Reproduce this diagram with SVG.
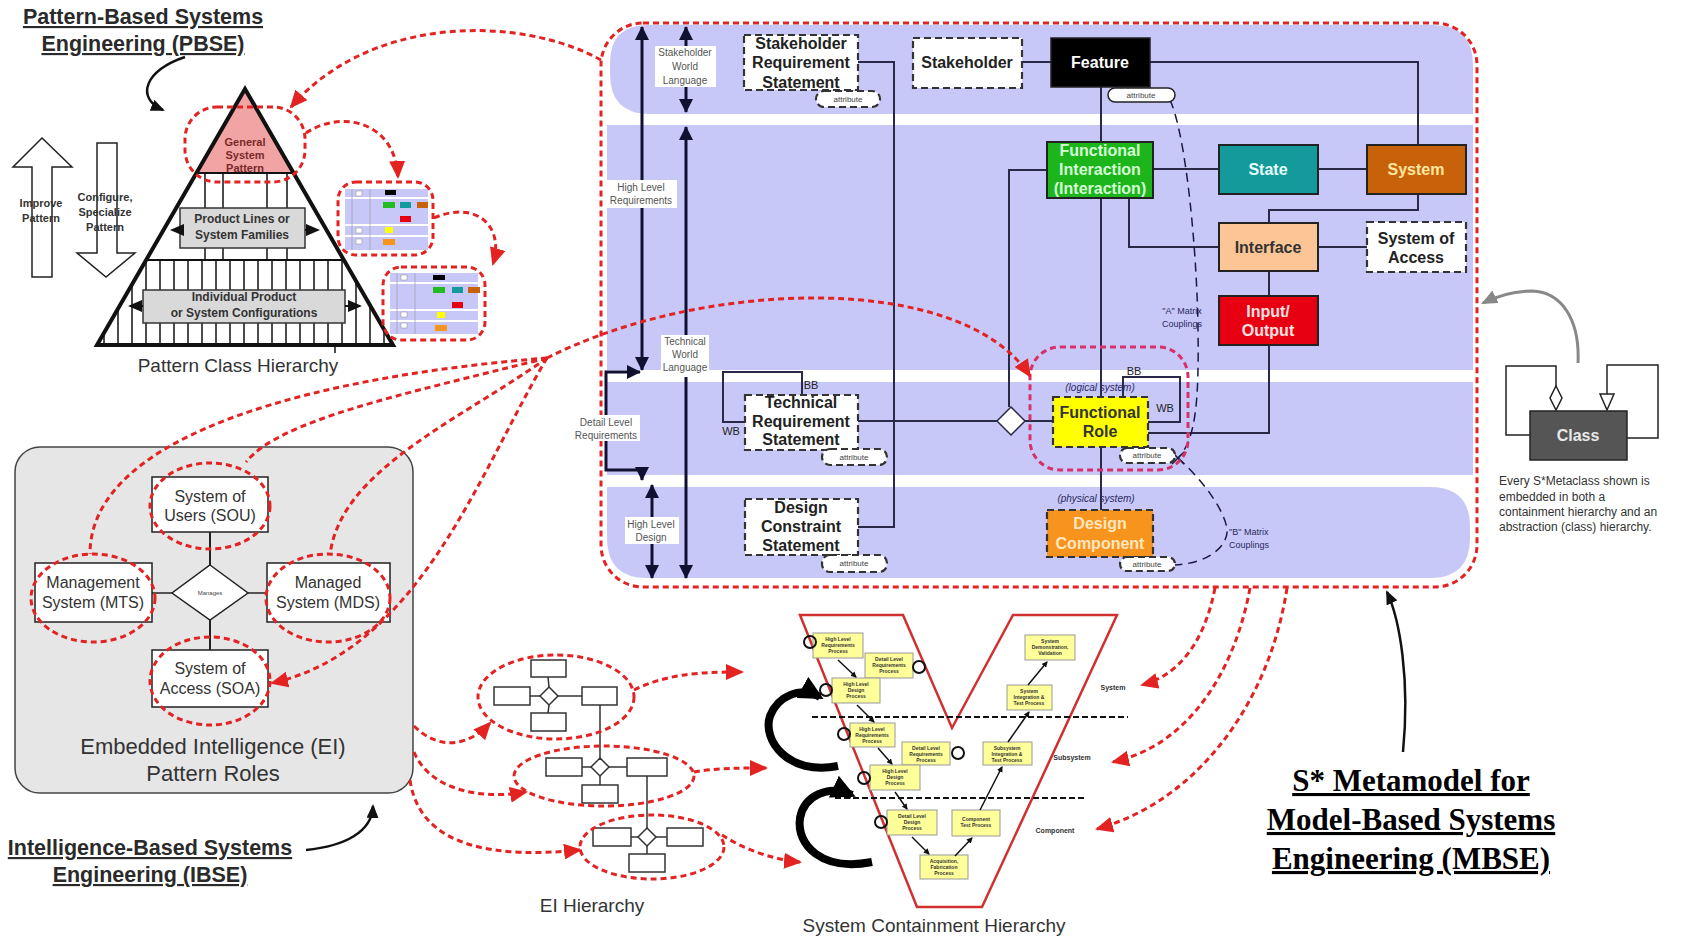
<svg xmlns="http://www.w3.org/2000/svg" width="1683" height="937" viewBox="0 0 1683 937">
<defs>
<style>
.sans{font-family:"Liberation Sans",Arial,sans-serif}
.t16b{font-family:"Liberation Sans",Arial,sans-serif;font-size:16px;font-weight:bold;text-anchor:middle}
.title{font-family:"Liberation Sans",Arial,sans-serif;font-size:21.5px;font-weight:bold;fill:#2a2a2a;text-anchor:middle;text-decoration:underline}
.mb{font-family:"Liberation Serif","Times New Roman",serif;font-size:31px;font-weight:bold;fill:#000;text-anchor:middle;text-decoration:underline}
.lbl{font-family:"Liberation Sans",Arial,sans-serif;font-size:10px;fill:#555;text-anchor:middle}
.pyr{font-family:"Liberation Sans",Arial,sans-serif;font-size:12px;font-weight:bold;fill:#333;text-anchor:middle}
.ei{font-family:"Liberation Sans",Arial,sans-serif;font-size:16px;fill:#333;text-anchor:middle}
.eibig{font-family:"Liberation Sans",Arial,sans-serif;font-size:22px;fill:#333;text-anchor:middle}
.attr{font-family:"Liberation Sans",Arial,sans-serif;font-size:8px;fill:#444;text-anchor:middle}
.vt{font-family:"Liberation Sans",Arial,sans-serif;font-size:5px;font-weight:bold;fill:#333;text-anchor:middle}
.vbox{fill:#ffff99;stroke:#999;stroke-width:1}
.dash{stroke:#333;stroke-width:2.2;stroke-dasharray:7 4}
.sol{stroke:#222;stroke-width:2}
.ln{fill:none;stroke:#2a2a48;stroke-width:2}
.red{fill:none;stroke:#e32222;stroke-width:3;stroke-dasharray:6 4}
.redA{fill:none;stroke:#e32222;stroke-width:3;stroke-dasharray:6 4;marker-end:url(#ra)}
.eibox{fill:#fff;stroke:#222;stroke-width:1.5}
.small{fill:#fff;stroke:#333;stroke-width:1.5}
.mx{fill:none;stroke:#1a1a40;stroke-width:1.5;stroke-dasharray:9 6}
.circ{fill:none;stroke:#111;stroke-width:2}
.va{fill:none;stroke:#111;stroke-width:1.5;marker-end:url(#sa)}
</style>
<marker id="ra" markerUnits="userSpaceOnUse" markerWidth="18" markerHeight="16" viewBox="0 0 18 16" refX="16" refY="8" orient="auto"><path d="M0,0 L18,8 L0,16 Z" fill="#e32222"/></marker>
<marker id="ba" markerUnits="userSpaceOnUse" markerWidth="14" markerHeight="14" viewBox="0 0 14 14" refX="13" refY="7" orient="auto-start-reverse"><path d="M0,0 L14,7 L0,14 Z" fill="#101030"/></marker>
<marker id="ka" markerUnits="userSpaceOnUse" markerWidth="14" markerHeight="12" viewBox="0 0 14 12" refX="12" refY="6" orient="auto"><path d="M0,0 L14,6 L0,12 Z" fill="#111"/></marker>
<marker id="big" markerUnits="userSpaceOnUse" markerWidth="24" markerHeight="24" viewBox="0 0 24 24" refX="20" refY="12" orient="auto"><path d="M0,0 L24,12 L0,24 Z" fill="#000"/></marker>
<marker id="ga" markerUnits="userSpaceOnUse" markerWidth="16" markerHeight="14" viewBox="0 0 16 14" refX="14" refY="7" orient="auto"><path d="M0,0 L16,7 L0,14 Z" fill="#888"/></marker>
<marker id="sa" markerUnits="userSpaceOnUse" markerWidth="6" markerHeight="6" viewBox="0 0 6 6" refX="5" refY="3" orient="auto"><path d="M0,0 L6,3 L0,6 Z" fill="#111"/></marker>
<clipPath id="tri"><polygon points="245,89 97,345 393,345"/></clipPath>
</defs>
<rect width="1683" height="937" fill="#fff"/>

<!-- Titles -->
<g id="title-pbse">
<text class="title" x="143" y="24">Pattern-Based Systems</text>
<text class="title" x="143" y="51">Engineering (PBSE)</text>
</g>
<g id="title-ibse">
<text class="title" x="150" y="855">Intelligence-Based Systems</text>
<text class="title" x="150" y="882">Engineering (IBSE)</text>
</g>
<g id="title-mbse">
<text class="mb" x="1411" y="791">S* Metamodel for</text>
<text class="mb" x="1411" y="830">Model-Based Systems</text>
<text class="mb" x="1411" y="869">Engineering (MBSE)</text>
</g>

<!-- Pyramid -->
<g id="pyramid">
<polygon points="245,89 196,173 294,173" fill="#f2a3a3"/>
<g clip-path="url(#tri)" stroke="#111" stroke-width="1.5">
<line x1="205" y1="173" x2="205" y2="260"/><line x1="223" y1="173" x2="223" y2="260"/>
<line x1="267" y1="173" x2="267" y2="260"/><line x1="287" y1="173" x2="287" y2="260"/>
<line x1="104" y1="260" x2="104" y2="345"/><line x1="118" y1="260" x2="118" y2="345"/><line x1="132" y1="260" x2="132" y2="345"/><line x1="146" y1="260" x2="146" y2="345"/><line x1="160" y1="260" x2="160" y2="345"/><line x1="174" y1="260" x2="174" y2="345"/><line x1="188" y1="260" x2="188" y2="345"/><line x1="202" y1="260" x2="202" y2="345"/><line x1="216" y1="260" x2="216" y2="345"/><line x1="230" y1="260" x2="230" y2="345"/><line x1="244" y1="260" x2="244" y2="345"/><line x1="258" y1="260" x2="258" y2="345"/><line x1="272" y1="260" x2="272" y2="345"/><line x1="286" y1="260" x2="286" y2="345"/><line x1="300" y1="260" x2="300" y2="345"/><line x1="314" y1="260" x2="314" y2="345"/><line x1="328" y1="260" x2="328" y2="345"/><line x1="342" y1="260" x2="342" y2="345"/><line x1="356" y1="260" x2="356" y2="345"/><line x1="370" y1="260" x2="370" y2="345"/><line x1="384" y1="260" x2="384" y2="345"/>
</g>
<line x1="196" y1="173" x2="294" y2="173" stroke="#111" stroke-width="2"/>
<line x1="146" y1="260" x2="344" y2="260" stroke="#111" stroke-width="2"/>
<polygon points="245,89 97,345 393,345" fill="none" stroke="#111" stroke-width="4" stroke-linejoin="miter"/>
<line x1="335" y1="345" x2="335" y2="353" stroke="#111" stroke-width="1.5"/>
<text class="sans" x="245" y="146" font-size="11" font-weight="bold" fill="#7a2a2a" text-anchor="middle">General</text>
<text class="sans" x="245" y="159" font-size="11" font-weight="bold" fill="#7a2a2a" text-anchor="middle">System</text>
<text class="sans" x="245" y="172" font-size="11" font-weight="bold" fill="#7a2a2a" text-anchor="middle">Pattern</text>
<rect x="180" y="208" width="125" height="40" fill="#d9d9d9" stroke="#333" stroke-width="1.5"/>
<text class="pyr" x="242" y="223">Product Lines or</text>
<text class="pyr" x="242" y="239">System Families</text>
<line x1="180" y1="230" x2="172" y2="230" stroke="#111" stroke-width="2" marker-end="url(#ka)"/>
<line x1="305" y1="230" x2="318" y2="230" stroke="#111" stroke-width="2" marker-end="url(#ka)"/>
<rect x="143" y="290" width="202" height="33" fill="#d9d9d9" stroke="#333" stroke-width="1.5"/>
<text class="pyr" x="244" y="301">Individual Product</text>
<text class="pyr" x="244" y="317">or System Configurations</text>
<line x1="143" y1="306" x2="130" y2="306" stroke="#111" stroke-width="2" marker-end="url(#ka)"/>
<line x1="345" y1="306" x2="360" y2="306" stroke="#111" stroke-width="2" marker-end="url(#ka)"/>
<text class="sans" x="238" y="372" font-size="19" fill="#333" text-anchor="middle">Pattern Class Hierarchy</text>
</g>

<g id="improve-arrow">
<polygon points="42,138 72,167 52,167 52,277 32,277 32,167 13,167" fill="#fff" stroke="#222" stroke-width="1.5"/>
<text class="sans" x="41" y="207" font-size="11" font-weight="bold" fill="#333" text-anchor="middle">Improve</text>
<text class="sans" x="41" y="222" font-size="11" font-weight="bold" fill="#333" text-anchor="middle">Pattern</text>
</g>
<g id="configure-arrow">
<polygon points="97,143 117,143 117,253 135,253 106,277 77,253 97,253" fill="#fff" stroke="#222" stroke-width="1.5"/>
<text class="sans" x="105" y="201" font-size="11" font-weight="bold" fill="#333" text-anchor="middle">Configure,</text>
<text class="sans" x="105" y="216" font-size="11" font-weight="bold" fill="#333" text-anchor="middle">Specialize</text>
<text class="sans" x="105" y="231" font-size="11" font-weight="bold" fill="#333" text-anchor="middle">Pattern</text>
</g>

<!-- thumbnails -->
<g id="thumb1">
<rect x="345" y="189" width="83" height="61" fill="#c8c8f8"/>
<rect x="345" y="197" width="83" height="2" fill="#fff"/><rect x="345" y="224" width="83" height="2" fill="#fff"/><rect x="345" y="235" width="83" height="2" fill="#fff"/>
<line x1="352" y1="189" x2="352" y2="250" stroke="#99a" stroke-width="0.7"/><line x1="370" y1="189" x2="370" y2="250" stroke="#99a" stroke-width="0.7"/>
<rect x="356" y="191" width="6" height="5" fill="#fff" stroke="#888" stroke-width="0.5"/><rect x="356" y="228" width="6" height="5" fill="#fff" stroke="#888" stroke-width="0.5"/><rect x="356" y="239" width="6" height="5" fill="#fff" stroke="#888" stroke-width="0.5"/>
<rect x="385" y="190" width="11" height="5" fill="#000"/>
<rect x="383" y="202" width="12" height="6" fill="#22bb22"/><rect x="400" y="202" width="11" height="6" fill="#149a9a"/><rect x="417" y="202" width="11" height="6" fill="#c8620a"/>
<rect x="400" y="216" width="11" height="6" fill="#e60012"/><rect x="385" y="227" width="8" height="6" fill="#ffff00"/><rect x="383" y="239" width="12" height="6" fill="#f7941d"/>
<rect x="338" y="182" width="95" height="73" rx="18" class="red"/>
</g>
<g id="thumb2">
<rect x="390" y="273" width="88" height="61" fill="#c8c8f8"/>
<rect x="390" y="282" width="88" height="2" fill="#fff"/><rect x="390" y="309" width="88" height="2" fill="#fff"/><rect x="390" y="320" width="88" height="2" fill="#fff"/>
<line x1="397" y1="273" x2="397" y2="334" stroke="#99a" stroke-width="0.7"/><line x1="415" y1="273" x2="415" y2="334" stroke="#99a" stroke-width="0.7"/>
<rect x="401" y="275" width="6" height="5" fill="#fff" stroke="#888" stroke-width="0.5"/><rect x="401" y="312" width="6" height="5" fill="#fff" stroke="#888" stroke-width="0.5"/><rect x="401" y="323" width="6" height="5" fill="#fff" stroke="#888" stroke-width="0.5"/>
<rect x="433" y="275" width="12" height="5" fill="#000"/>
<rect x="433" y="287" width="12" height="6" fill="#22bb22"/><rect x="452" y="287" width="11" height="6" fill="#149a9a"/><rect x="468" y="287" width="12" height="6" fill="#c8620a"/>
<rect x="452" y="302" width="11" height="6" fill="#e60012"/><rect x="437" y="312" width="8" height="6" fill="#ffff00"/><rect x="435" y="325" width="12" height="6" fill="#f7941d"/>
<rect x="383" y="267" width="102" height="73" rx="18" class="red"/>
</g>
<g id="gsp-outline"><rect x="185" y="107" width="120" height="75" rx="32" class="red"/></g>

<!-- EI box -->
<g id="ei-box">
<rect x="15" y="447" width="398" height="346" rx="25" fill="#e6e6e6" stroke="#444" stroke-width="1.5"/>
<line x1="210" y1="532" x2="210" y2="565" stroke="#222" stroke-width="2"/>
<line x1="210" y1="620" x2="210" y2="650" stroke="#222" stroke-width="2"/>
<line x1="152" y1="593" x2="172" y2="593" stroke="#222" stroke-width="1.5"/>
<line x1="248" y1="593" x2="267" y2="593" stroke="#222" stroke-width="1.5"/>
<text class="eibig" x="213" y="754">Embedded Intelligence (EI)</text>
<text class="eibig" x="213" y="781">Pattern Roles</text>
</g>
<g id="ei-sou"><rect x="152" y="477" width="116" height="55" class="eibox"/><text class="ei" x="210" y="502">System of</text><text class="ei" x="210" y="521">Users (SOU)</text></g>
<g id="ei-mts"><rect x="35" y="563" width="117" height="59" class="eibox"/><text class="ei" x="93" y="588">Management</text><text class="ei" x="93" y="608">System (MTS)</text></g>
<g id="ei-mds"><rect x="267" y="563" width="123" height="59" class="eibox"/><text class="ei" x="328" y="588">Managed</text><text class="ei" x="328" y="608">System (MDS)</text></g>
<g id="ei-soa"><rect x="152" y="650" width="116" height="57" class="eibox"/><text class="ei" x="210" y="674">System of</text><text class="ei" x="210" y="694">Access (SOA)</text></g>
<g id="ei-manages"><polygon points="210,565 248,593 210,620 172,593" fill="#fff" stroke="#222" stroke-width="1.5"/><text class="sans" x="210" y="595" font-size="6" fill="#444" text-anchor="middle">Manages</text></g>
<g id="ei-outlines">
<ellipse cx="210" cy="506" rx="60" ry="43" class="red"/>
<ellipse cx="93" cy="598" rx="62" ry="44" class="red"/>
<ellipse cx="328" cy="598" rx="62" ry="44" class="red"/>
<ellipse cx="210" cy="681" rx="60" ry="44" class="red"/>
</g>

<!-- EI hierarchy -->
<g id="ei-hierarchy">
<g stroke="#333" stroke-width="1.5">
<line x1="548" y1="677" x2="549" y2="687"/><line x1="549" y1="705" x2="548" y2="713"/><line x1="530" y1="696" x2="540" y2="696"/><line x1="558" y1="696" x2="582" y2="696"/>
<line x1="600" y1="705" x2="600" y2="758"/>
<line x1="582" y1="767" x2="591" y2="767"/><line x1="609" y1="767" x2="627" y2="767"/><line x1="600" y1="776" x2="600" y2="785"/>
<line x1="647" y1="776" x2="647" y2="828"/>
<line x1="631" y1="837" x2="638" y2="837"/><line x1="656" y1="837" x2="667" y2="837"/><line x1="647" y1="846" x2="647" y2="854"/>
</g>
<rect x="531" y="660" width="35" height="17" class="small"/><rect x="494" y="687" width="36" height="18" class="small"/><rect x="582" y="687" width="35" height="18" class="small"/><rect x="531" y="713" width="35" height="18" class="small"/>
<polygon points="549,687 558,696 549,705 540,696" class="small"/>
<rect x="546" y="758" width="36" height="18" class="small"/><rect x="627" y="758" width="40" height="18" class="small"/><rect x="582" y="785" width="36" height="18" class="small"/>
<polygon points="600,758 609,767 600,776 591,767" class="small"/>
<rect x="593" y="828" width="38" height="18" class="small"/><rect x="667" y="828" width="36" height="18" class="small"/><rect x="629" y="854" width="36" height="18" class="small"/>
<polygon points="647,828 656,837 647,846 638,837" class="small"/>
<ellipse cx="556" cy="697" rx="78" ry="42" class="red"/>
<ellipse cx="604" cy="776" rx="90" ry="30" class="red"/>
<ellipse cx="652" cy="847" rx="72" ry="32" class="red"/>
<text class="sans" x="592" y="912" font-size="19" fill="#333" text-anchor="middle">EI Hierarchy</text>
</g>

<!-- V model -->
<g id="v-model">
<polygon points="800,615 903,615 952,728 1013,615 1117,615 982,907 917,907" fill="none" stroke="#d03030" stroke-width="2.5"/>
<line x1="812" y1="717" x2="1128" y2="717" stroke="#111" stroke-width="2" stroke-dasharray="6 3"/>
<line x1="835" y1="798" x2="1084" y2="798" stroke="#111" stroke-width="2" stroke-dasharray="6 3"/>
<text class="sans" x="1113" y="690" font-size="7" font-weight="bold" fill="#333" text-anchor="middle">System</text>
<text class="sans" x="1072" y="760" font-size="7" font-weight="bold" fill="#333" text-anchor="middle">Subsystem</text>
<text class="sans" x="1055" y="833" font-size="7" font-weight="bold" fill="#333" text-anchor="middle">Component</text>
<path d="M838,766 C788,776 762,740 770,716 C778,696 800,686 820,697" fill="none" stroke="#000" stroke-width="8" marker-end="url(#big)"/>
<path d="M872,862 C822,872 796,845 800,818 C804,796 828,784 852,795" fill="none" stroke="#000" stroke-width="8" marker-end="url(#big)"/>
<g class="vboxes">
<rect x="813" y="633" width="50" height="25" class="vbox"/><text class="vt" x="838" y="641">High Level</text><text class="vt" x="838" y="647">Requirements</text><text class="vt" x="838" y="653">Process</text>
<rect x="865" y="653" width="48" height="25" class="vbox"/><text class="vt" x="889" y="661">Detail Level</text><text class="vt" x="889" y="667">Requirements</text><text class="vt" x="889" y="673">Process</text>
<rect x="832" y="678" width="48" height="25" class="vbox"/><text class="vt" x="856" y="686">High Level</text><text class="vt" x="856" y="692">Design</text><text class="vt" x="856" y="698">Process</text>
<rect x="850" y="723" width="45" height="24" class="vbox"/><text class="vt" x="872" y="731">High Level</text><text class="vt" x="872" y="737">Requirements</text><text class="vt" x="872" y="743">Process</text>
<rect x="902" y="742" width="48" height="23" class="vbox"/><text class="vt" x="926" y="750">Detail Level</text><text class="vt" x="926" y="756">Requirements</text><text class="vt" x="926" y="762">Process</text>
<rect x="870" y="765" width="50" height="25" class="vbox"/><text class="vt" x="895" y="773">High Level</text><text class="vt" x="895" y="779">Design</text><text class="vt" x="895" y="785">Process</text>
<rect x="887" y="810" width="50" height="25" class="vbox"/><text class="vt" x="912" y="818">Detail Level</text><text class="vt" x="912" y="824">Design</text><text class="vt" x="912" y="830">Process</text>
<rect x="920" y="855" width="48" height="24" class="vbox"/><text class="vt" x="944" y="863">Acquisition,</text><text class="vt" x="944" y="869">Fabrication</text><text class="vt" x="944" y="875">Process</text>
<rect x="952" y="810" width="48" height="26" class="vbox"/><text class="vt" x="976" y="821">Component</text><text class="vt" x="976" y="827">Test Process</text>
<rect x="983" y="742" width="49" height="23" class="vbox"/><text class="vt" x="1007" y="750">Subsystem</text><text class="vt" x="1007" y="756">Integration &amp;</text><text class="vt" x="1007" y="762">Test Process</text>
<rect x="1007" y="685" width="45" height="25" class="vbox"/><text class="vt" x="1029" y="693">System</text><text class="vt" x="1029" y="699">Integration &amp;</text><text class="vt" x="1029" y="705">Test Process</text>
<rect x="1025" y="635" width="50" height="25" class="vbox"/><text class="vt" x="1050" y="643">System</text><text class="vt" x="1050" y="649">Demonstration,</text><text class="vt" x="1050" y="655">Validation</text>
</g>
<line x1="838" y1="660" x2="856" y2="677" class="va"/>
<line x1="857" y1="705" x2="874" y2="722" class="va"/>
<line x1="878" y1="748" x2="892" y2="764" class="va"/>
<line x1="895" y1="792" x2="907" y2="809" class="va"/>
<line x1="912" y1="837" x2="929" y2="854" class="va"/>
<line x1="955" y1="856" x2="972" y2="838" class="va"/>
<line x1="980" y1="810" x2="1002" y2="767" class="va"/>
<line x1="1008" y1="742" x2="1029" y2="712" class="va"/>
<line x1="1028" y1="685" x2="1047" y2="662" class="va"/>
<circle cx="810" cy="642" r="6" class="circ"/><circle cx="919" cy="667" r="6" class="circ"/><circle cx="826" cy="690" r="6" class="circ"/>
<circle cx="844" cy="734" r="6" class="circ"/><circle cx="958" cy="753" r="6" class="circ"/><circle cx="864" cy="778" r="6" class="circ"/><circle cx="881" cy="822" r="6" class="circ"/>
<text class="sans" x="934" y="932" font-size="19" fill="#333" text-anchor="middle">System Containment Hierarchy</text>
</g>

<!-- Metamodel frame background -->
<g id="metamodel-frame">
<path d="M648,25 L1433,25 Q1473,25 1473,65 L1473,114 L650,114 Q610,114 610,74 L610,63 Q610,25 648,25 Z" fill="#c8c8f8"/>
<rect x="607" y="125" width="866" height="245" fill="#c8c8f8"/>
<rect x="607" y="382" width="866" height="93" fill="#c8c8f8"/>
<path d="M607,487 L1430,487 Q1470,487 1470,527 L1470,538 Q1470,578 1430,578 L647,578 Q607,578 607,538 Z" fill="#c8c8f8"/>
<rect x="601" y="23" width="876" height="564" rx="42" class="red"/>
</g>

<!-- internal lines -->
<g id="connectors-internal">
<path d="M858,62 L894,62 L894,527 L858,527" class="ln"/>
<path d="M858,421 L998,421" class="ln"/>
<path d="M1022,62 L1051,62" class="ln"/>
<path d="M1150,62 L1418,62 L1418,145" class="ln"/>
<path d="M1101,87 L1101,510" class="ln"/>
<path d="M1047,170 L1009,170 L1009,407" class="ln"/>
<path d="M1024,421 L1053,421" class="ln"/>
<path d="M1153,169 L1219,169 M1318,169 L1367,169" class="ln"/>
<path d="M1418,194 L1418,210 L1269,210 L1269,223" class="ln"/>
<path d="M1129,198 L1129,247 L1219,247" class="ln"/>
<path d="M1318,247 L1367,247" class="ln"/>
<path d="M1269,271 L1269,296" class="ln"/>
<path d="M1269,345 L1269,433 L1148,433" class="ln"/>
<path d="M1123,397 L1123,377 L1180,377 L1180,422 L1148,422" class="ln"/>
<path d="M802,395 L802,372 L723,372 L723,422 L745,422" class="ln"/>
<path d="M642,370 L642,27" fill="none" stroke="#101030" stroke-width="3" marker-start="url(#ba)" marker-end="url(#ba)"/>
<path d="M686,112 L686,27" fill="none" stroke="#101030" stroke-width="3" marker-start="url(#ba)" marker-end="url(#ba)"/>
<path d="M686,578 L686,127" fill="none" stroke="#101030" stroke-width="3" marker-start="url(#ba)" marker-end="url(#ba)"/>
<path d="M640,372 L606,372 L606,470 L642,470 L642,480" fill="none" stroke="#101030" stroke-width="3" marker-start="url(#ba)" marker-end="url(#ba)"/>
<path d="M652,485 L652,578" fill="none" stroke="#101030" stroke-width="3" marker-start="url(#ba)" marker-end="url(#ba)"/>
<path d="M1170,100 C1186,135 1197,250 1198,330 C1199,400 1196,440 1178,458" class="mx"/>
<path d="M1178,458 C1200,478 1222,505 1227,528 C1229,545 1210,563 1175,565" class="mx"/>
<path d="M1172,452 L1184,464 M1184,452 L1172,464" stroke="#1a1a40" stroke-width="1.5"/>
</g>

<!-- small labels -->
<g id="arrow-labels">
<rect x="655" y="46" width="61" height="41" fill="#fff"/>
<text class="lbl" x="685" y="56">Stakeholder</text><text class="lbl" x="685" y="70">World</text><text class="lbl" x="685" y="84">Language</text>
<rect x="605" y="180" width="72" height="28" fill="#fff"/>
<text class="lbl" x="641" y="191">High Level</text><text class="lbl" x="641" y="204">Requirements</text>
<rect x="661" y="335" width="48" height="42" fill="#fff"/>
<text class="lbl" x="685" y="345">Technical</text><text class="lbl" x="685" y="358">World</text><text class="lbl" x="685" y="371">Language</text>
<rect x="573" y="415" width="67" height="26" fill="#fff"/>
<text class="lbl" x="606" y="426">Detail Level</text><text class="lbl" x="606" y="439">Requirements</text>
<rect x="625" y="517" width="54" height="27" fill="#fff"/>
<text class="lbl" x="651" y="528">High Level</text><text class="lbl" x="651" y="541">Design</text>
<text class="sans" x="1182" y="314" font-size="9" fill="#2a2a60" text-anchor="middle">"A" Matrix</text>
<text class="sans" x="1182" y="327" font-size="9" fill="#2a2a60" text-anchor="middle">Couplings</text>
<text class="sans" x="1229" y="535" font-size="9" fill="#2a2a60">"B" Matrix</text>
<text class="sans" x="1229" y="548" font-size="9" fill="#2a2a60">Couplings</text>
<text class="sans" x="811" y="389" font-size="11" fill="#222" text-anchor="middle">BB</text>
<text class="sans" x="731" y="435" font-size="11" fill="#222" text-anchor="middle">WB</text>
<text class="sans" x="1134" y="375" font-size="11" fill="#222" text-anchor="middle">BB</text>
<text class="sans" x="1165" y="412" font-size="11" fill="#222" text-anchor="middle">WB</text>
<text class="sans" x="1100" y="391" font-size="10" font-style="italic" fill="#2a2a60" text-anchor="middle">(logical system)</text>
<text class="sans" x="1096" y="502" font-size="10" font-style="italic" fill="#2a2a60" text-anchor="middle">(physical system)</text>
</g>

<!-- metamodel nodes -->
<g id="n-srs"><rect x="744" y="35" width="114" height="55" fill="#fff" class="dash"/><text class="t16b" x="801" y="49" fill="#222">Stakeholder</text><text class="t16b" x="801" y="68" fill="#222">Requirement</text><text class="t16b" x="801" y="88" fill="#222">Statement</text></g>
<g id="n-srs-attr"><rect x="816" y="91" width="64" height="16" rx="8" fill="#fff" class="dash" stroke-width="1.5"/><text class="attr" x="848" y="102">attribute</text></g>
<g id="n-stakeholder"><rect x="913" y="38" width="109" height="50" fill="#fff" class="dash"/><text class="t16b" x="967" y="68" fill="#222">Stakeholder</text></g>
<g id="n-feature"><rect x="1051" y="38" width="99" height="49" fill="#000" stroke="#222" stroke-width="1.5"/><text class="t16b" x="1100" y="68" fill="#fff">Feature</text></g>
<g id="n-feature-attr"><rect x="1108" y="88" width="67" height="14" rx="7" fill="#fff" stroke="#222" stroke-width="1.5"/><text class="attr" x="1141" y="98">attribute</text></g>
<g id="n-fi"><rect x="1047" y="142" width="106" height="56" fill="#1cb51c" class="sol"/><text class="t16b" x="1100" y="156" fill="#d6ffd6">Functional</text><text class="t16b" x="1100" y="175" fill="#d6ffd6">Interaction</text><text class="t16b" x="1100" y="194" fill="#d6ffd6">(Interaction)</text></g>
<g id="n-state"><rect x="1219" y="145" width="99" height="49" fill="#149a9a" class="sol"/><text class="t16b" x="1268" y="175" fill="#e6ffff">State</text></g>
<g id="n-system"><rect x="1367" y="145" width="99" height="49" fill="#c8620a" class="sol"/><text class="t16b" x="1416" y="175" fill="#ffe6a0">System</text></g>
<g id="n-interface"><rect x="1219" y="223" width="99" height="48" fill="#fbc595" class="sol"/><text class="t16b" x="1268" y="253" fill="#333">Interface</text></g>
<g id="n-soa"><rect x="1367" y="222" width="99" height="50" fill="#fff" class="dash"/><text class="t16b" x="1416" y="244" fill="#222">System of</text><text class="t16b" x="1416" y="263" fill="#222">Access</text></g>
<g id="n-io"><rect x="1219" y="296" width="99" height="49" fill="#e60012" class="sol"/><text class="t16b" x="1268" y="317" fill="#ffe0e0">Input/</text><text class="t16b" x="1268" y="336" fill="#ffe0e0">Output</text></g>
<g id="n-trs"><rect x="745" y="395" width="113" height="55" fill="#fff" class="dash"/><text class="t16b" x="801" y="408" fill="#222">Technical</text><text class="t16b" x="801" y="427" fill="#222">Requirement</text><text class="t16b" x="801" y="445" fill="#222">Statement</text></g>
<g id="n-trs-attr"><rect x="822" y="449" width="65" height="16" rx="8" fill="#fff" class="dash" stroke-width="1.5"/><text class="attr" x="854" y="460">attribute</text></g>
<g id="n-diamond"><polygon points="1011,407 1025,421 1011,435 997,421" fill="#fff" stroke="#2a2a48" stroke-width="1.5"/></g>
<g id="n-fr"><rect x="1053" y="397" width="95" height="50" fill="#ffff00" class="dash"/><text class="t16b" x="1100" y="418" fill="#333">Functional</text><text class="t16b" x="1100" y="437" fill="#333">Role</text></g>
<g id="n-fr-attr"><rect x="1120" y="448" width="55" height="15" rx="7" fill="#fff" class="dash" stroke-width="1.5"/><text class="attr" x="1147" y="458">attribute</text></g>
<g id="n-dcs"><rect x="745" y="499" width="113" height="56" fill="#fff" class="dash"/><text class="t16b" x="801" y="513" fill="#222">Design</text><text class="t16b" x="801" y="532" fill="#222">Constraint</text><text class="t16b" x="801" y="551" fill="#222">Statement</text></g>
<g id="n-dcs-attr"><rect x="822" y="555" width="65" height="17" rx="8" fill="#fff" class="dash" stroke-width="1.5"/><text class="attr" x="854" y="566">attribute</text></g>
<g id="n-dc"><rect x="1047" y="510" width="106" height="47" fill="#f7941d" class="dash"/><text class="t16b" x="1100" y="529" fill="#ffe6c0">Design</text><text class="t16b" x="1100" y="549" fill="#ffe6c0">Component</text></g>
<g id="n-dc-attr"><rect x="1120" y="557" width="55" height="14" rx="7" fill="#fff" class="dash" stroke-width="1.5"/><text class="attr" x="1147" y="567">attribute</text></g>
<g id="fr-outline"><rect x="1030" y="347" width="158" height="123" rx="30" fill="none" stroke="#d8306a" stroke-width="3" stroke-dasharray="6 4"/></g>

<!-- Class -->
<g id="class-node">
<path d="M1556,386 L1556,366 L1506,366 L1506,435 L1530,435" fill="none" stroke="#222" stroke-width="1.5"/>
<path d="M1607,394 L1607,365 L1658,365 L1658,438 L1627,438" fill="none" stroke="#222" stroke-width="1.5"/>
<polygon points="1556,386 1562,398 1556,410 1550,398" fill="#fff" stroke="#222" stroke-width="1.5"/>
<polygon points="1600,394 1614,394 1607,410" fill="#fff" stroke="#222" stroke-width="1.5"/>
<rect x="1530" y="411" width="97" height="49" fill="#555" stroke="#222" stroke-width="1.5"/>
<text class="t16b" x="1578" y="441" fill="#e8e8e8">Class</text>
<text class="sans" x="1499" y="485" font-size="12" fill="#333">Every S*Metaclass shown is</text>
<text class="sans" x="1499" y="501" font-size="12" fill="#333">embedded in both a</text>
<text class="sans" x="1499" y="516" font-size="12" fill="#333">containment hierarchy and an</text>
<text class="sans" x="1499" y="531" font-size="12" fill="#333">abstraction (class) hierarchy.</text>
</g>

<!-- overlay connectors -->
<g id="connectors">
<path d="M185,57 C145,70 135,98 163,110" fill="none" stroke="#111" stroke-width="2.5" marker-end="url(#ka)"/>
<path d="M306,850 C345,846 372,832 373,806" fill="none" stroke="#111" stroke-width="2.5" marker-end="url(#ka)"/>
<path d="M1403,752 C1410,680 1400,620 1387,592" fill="none" stroke="#111" stroke-width="2.5" marker-end="url(#ka)"/>
<path d="M1578,363 C1580,320 1562,292 1532,291 C1512,291 1497,296 1483,303" fill="none" stroke="#888" stroke-width="3" marker-end="url(#ga)"/>
<path d="M601,60 C520,15 370,15 291,107" class="redA"/>
<path d="M306,133 C340,110 395,120 398,177" class="redA"/>
<path d="M434,218 C475,200 505,225 493,264" class="redA"/>
<path d="M547,358 C700,280 960,270 1030,376" class="redA"/>
<path d="M547,358 C330,375 90,430 90,554" class="red"/>
<path d="M547,358 C400,395 280,420 246,462" class="red"/>
<path d="M547,358 C460,420 340,470 330,555" class="red"/>
<path d="M547,358 C480,470 420,650 272,683" class="redA"/>
<path d="M414,726 C440,752 470,745 490,723" class="redA"/>
<path d="M414,752 C430,790 480,800 526,792" class="redA"/>
<path d="M410,780 C420,850 500,858 580,850" class="redA"/>
<path d="M634,690 C670,672 710,672 742,672" class="redA"/>
<path d="M694,772 C715,768 740,768 766,768" class="redA"/>
<path d="M722,835 C745,850 775,860 800,862" class="redA"/>
<path d="M1215,588 C1205,640 1180,675 1142,685" class="redA"/>
<path d="M1250,588 C1235,670 1190,745 1113,762" class="redA"/>
<path d="M1287,588 C1270,700 1200,800 1097,829" class="redA"/>
</g>
</svg>
